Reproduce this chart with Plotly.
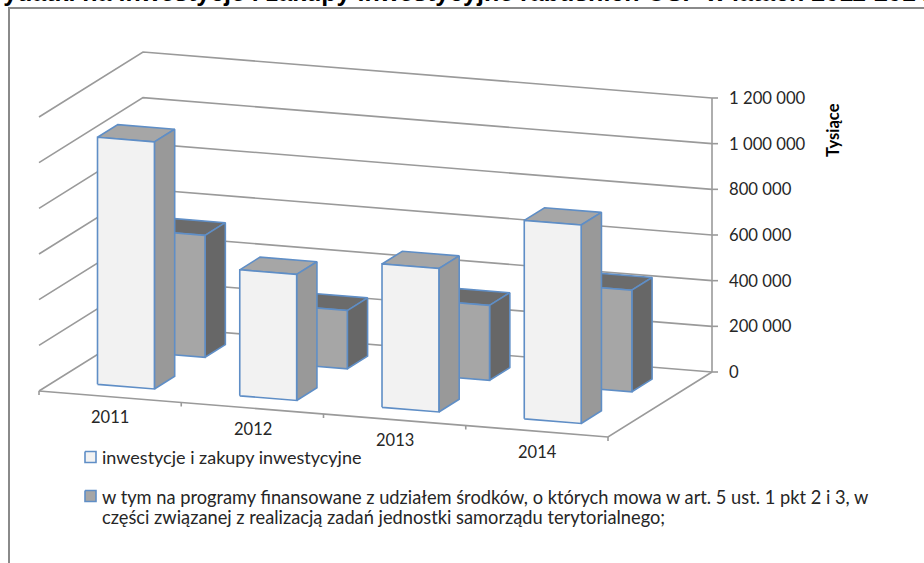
import plotly.graph_objects as go

years = ["2011", "2012", "2013", "2014"]
inwestycje = [1082000, 552000, 628000, 869000]
programy = [534000, 255000, 328000, 445000]
axis_ticks = [0, 200000, 400000, 600000, 800000, 1000000, 1200000]
legend_1 = "inwestycje i zakupy inwestycyjne"
legend_2a = "w tym na programy finansowane z udziałem środków, o których mowa w art. 5 ust. 1 pkt 2 i 3, w"
legend_2b = "części związanej z realizacją zadań jednostki samorządu terytorialnego;"
title = "Wydatki na inwestycje i zakupy inwestycyjne rabusnich OSP w latach 2011-2014"

W, H = 924, 563
PX_PER_VAL = 274 / 1200000
OX, OY = 39, 391            # front-left floor corner (px)
CATX, CATY = 142.25, 11.5   # category step (px)
DEPX, DEPY = 104, -65       # full depth (px)
ZERO_PX = 372
FONT = "Lato, 'Open Sans', sans-serif"


def val_at(py):
    return (ZERO_PX - py) / PX_PER_VAL


def P(c, d, v):
    """oblique projection of (category, depth, value) to axis coordinates"""
    px = OX + c * CATX + d * DEPX
    py = OY + c * CATY + d * DEPY - v * PX_PER_VAL
    return px, val_at(py)


fig = go.Figure()


def line(pts, color="#9a9a9a", width=1.6):
    xs, ys = zip(*pts)
    fig.add_trace(go.Scatter(x=xs, y=ys, mode="lines", line=dict(color=color, width=width),
                             hoverinfo="skip", showlegend=False))


def poly(pts, fill, edge, width=1.6):
    xs, ys = zip(*(pts + pts[:1]))
    fig.add_trace(go.Scatter(x=xs, y=ys, mode="lines", fill="toself", fillcolor=fill,
                             line=dict(color=edge, width=width),
                             hoverinfo="skip", showlegend=False))


# walls / gridlines
n = len(years)
for t in axis_ticks:
    line([P(0, 0, t), P(0, 1, t), P(n, 1, t)])
line([P(0, 0, 0), P(n, 0, 0), P(n, 1, 0)])
line([P(n, 1, 0), P(n, 1, axis_ticks[-1])])
for c in range(n + 1):
    p = P(c, 0, 0)
    line([p, (p[0], p[1] - 4 / PX_PER_VAL)])
for t in axis_ticks:
    p = P(n, 1, t)
    line([p, (p[0] + 6, p[1])])


def bar(c0, c1, d0, d1, v, front, top, side):
    poly([P(c0, d0, v), P(c1, d0, v), P(c1, d1, v), P(c0, d1, v)], top, BLUE)
    poly([P(c1, d0, 0), P(c1, d1, 0), P(c1, d1, v), P(c1, d0, v)], side, BLUE)
    poly([P(c0, d0, 0), P(c1, d0, 0), P(c1, d0, v), P(c0, d0, v)], front, BLUE)


BLUE = "#5f8ec6"
for i in range(n):
    bar(i + 0.298, i + 0.698, 0.642, 0.837, programy[i], "#a6a6a6", "#6b6b6b", "#676767")
for i in range(n):
    bar(i + 0.298, i + 0.698, 0.155, 0.35, inwestycje[i], "#f2f2f2", "#a6a6a6", "#999999")

# legend swatches
for py, fill in [(457, "#f2f2f2"), (496, "#a6a6a6")]:
    poly([(85, val_at(py - 5.5)), (96, val_at(py - 5.5)), (96, val_at(py + 5.5)), (85, val_at(py + 5.5))],
         fill, BLUE)


def text(px, py, s, size=17, color="#262626", anchor="left", family=FONT, bold=False, angle=0):
    fig.add_annotation(xref="paper", yref="paper", x=px / W, y=1 - py / H,
                       text=f"<b>{s}</b>" if bold else s, showarrow=False,
                       xanchor=anchor, yanchor="middle", textangle=angle,
                       font=dict(size=size, color=color, family=family))


for i, y in enumerate(years):
    text(110 + i * 142.5, 417 + i * 11.7, y, anchor="center", size=16.5)
text(100, 457, legend_1, size=18)
text(100, 497, legend_2a, size=18.25)
text(100, 517, legend_2b, size=18.25)
text(833, 130, "Tysiące", size=16.5, color="#000000", anchor="center", bold=True, angle=-90)
text(-22, -8, title, size=25, color="#000000", family="Liberation Sans, Arial, sans-serif", bold=True)

fig.update_layout(
    width=W, height=H, margin=dict(l=0, r=0, t=0, b=0), autosize=False,
    paper_bgcolor="white", plot_bgcolor="white", showlegend=False, separators=", ",
    xaxis=dict(range=[0, W], visible=False, domain=[0, 1]),
    yaxis=dict(range=[val_at(H), val_at(0)], side="right", anchor="free", position=728 / W,
               tickmode="array", tickvals=axis_ticks, tickformat=",d", showgrid=False, zeroline=False,
               showline=False, ticks="", ticklen=0,
               tickfont=dict(size=16.7, color="#262626", family=FONT)),
    shapes=[dict(type="rect", xref="paper", yref="paper", x0=9 / W, x1=1.02, y0=-0.02, y1=1 - 8 / H,
                 line=dict(color="#8a8a8a", width=2), fillcolor="rgba(0,0,0,0)", layer="below")],
)
fig.write_html("out.html", config={"displayModeBar": False},
               post_script="document.body.style.margin='0';document.documentElement.style.overflow='hidden';")
